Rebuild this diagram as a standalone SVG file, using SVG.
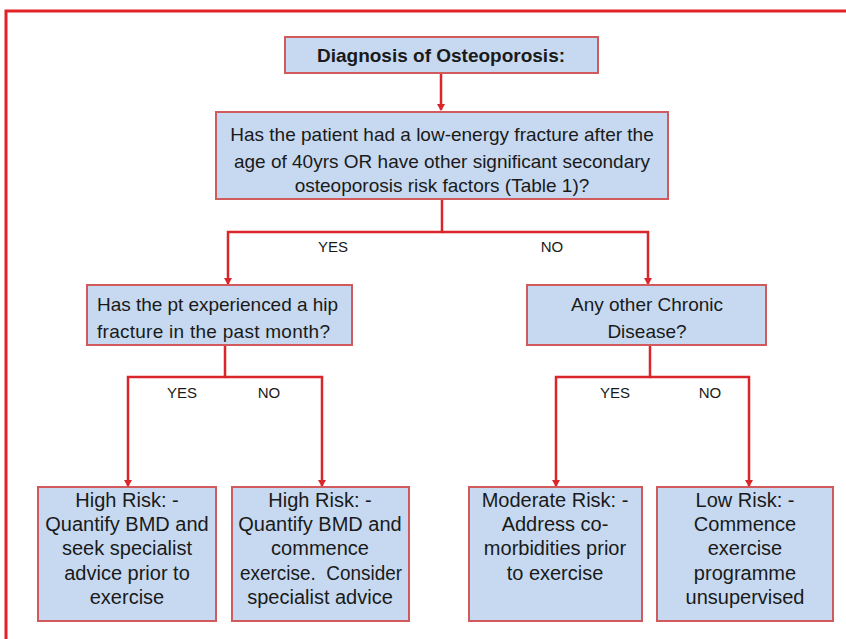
<svg xmlns="http://www.w3.org/2000/svg" width="846" height="639" viewBox="0 0 846 639">
<style>
.box{fill:#c6d9f0;stroke:#d05a5c;stroke-width:2}
.t{font-family:"Liberation Sans",Arial,sans-serif;fill:#1a1a1a}
.q{font-size:19px}
.b{font-size:20px;white-space:pre}
.lbl{font-size:15px}
.c{fill:none;stroke:#d9262b;stroke-width:2.5}
</style>
<defs>
<marker id="ah" markerWidth="8" markerHeight="8" refX="6" refY="4" orient="auto" markerUnits="userSpaceOnUse">
<path d="M0,0 L7,4 L0,8 Z" fill="#d9262b"/>
</marker>
</defs>
<rect width="846" height="639" fill="#ffffff"/>
<path d="M6,639 V11 H846" fill="none" stroke="#e32228" stroke-width="3"/>

<g id="connectors">
<path class="c" d="M441,73 V110" marker-end="url(#ah)"/>
<path class="c" d="M442,199 V232 H228 V284" marker-end="url(#ah)"/>
<path class="c" d="M442,232 H648 V284" marker-end="url(#ah)"/>
<path class="c" d="M225,345 V377 H128 V486" marker-end="url(#ah)"/>
<path class="c" d="M225,377 H322 V486" marker-end="url(#ah)"/>
<path class="c" d="M650,345 V377 H556 V486" marker-end="url(#ah)"/>
<path class="c" d="M650,377 H749 V486" marker-end="url(#ah)"/>
<text class="t lbl" x="333" y="252" text-anchor="middle">YES</text>
<text class="t lbl" x="552" y="252" text-anchor="middle">NO</text>
<text class="t lbl" x="182" y="398" text-anchor="middle">YES</text>
<text class="t lbl" x="269" y="398" text-anchor="middle">NO</text>
<text class="t lbl" x="615" y="398" text-anchor="middle">YES</text>
<text class="t lbl" x="710" y="398" text-anchor="middle">NO</text>
</g>

<g id="title">
<rect class="box" x="285" y="37" width="313" height="36"/>
<text class="t" x="441" y="62" text-anchor="middle" font-size="19" font-weight="bold">Diagnosis of Osteoporosis:</text>
</g>

<g id="q1">
<rect class="box" x="216" y="112" width="452" height="87"/>
<text class="t q" text-anchor="middle"><tspan x="442" y="141">Has the patient had a low-energy fracture after the</tspan><tspan x="442" y="168">age of 40yrs OR have other significant secondary</tspan><tspan x="442" y="192">osteoporosis risk factors (Table 1)?</tspan></text>
</g>

<g id="q-hip">
<rect class="box" x="87" y="285" width="265" height="60"/>
<text class="t q" x="97" y="311" textLength="241" lengthAdjust="spacing">Has the pt experienced a hip</text>
<text class="t q" x="97" y="338" textLength="233" lengthAdjust="spacing">fracture in the past month?</text>
</g>

<g id="q-chronic">
<rect class="box" x="527" y="285" width="239" height="60"/>
<text class="t q" text-anchor="middle"><tspan x="647" y="311">Any other Chronic</tspan><tspan x="647" y="338">Disease?</tspan></text>
</g>

<g id="high-risk-1">
<rect class="box" x="38" y="487" width="178" height="134"/>
<text class="t b" text-anchor="middle"><tspan x="127" y="507">High Risk: -</tspan><tspan x="127" y="531">Quantify BMD and</tspan><tspan x="127" y="555">seek specialist</tspan><tspan x="127" y="580">advice prior to</tspan><tspan x="127" y="604">exercise</tspan></text>
</g>

<g id="high-risk-2">
<rect class="box" x="232" y="487" width="177" height="134"/>
<text class="t b" text-anchor="middle"><tspan x="320" y="507">High Risk: -</tspan><tspan x="320" y="531">Quantify BMD and</tspan><tspan x="320" y="555">commence</tspan><tspan x="320" y="604">specialist advice</tspan></text>
<text class="t b" x="240" y="580" textLength="162" lengthAdjust="spacingAndGlyphs">exercise.  Consider</text>
</g>

<g id="moderate-risk">
<rect class="box" x="469" y="487" width="173" height="134"/>
<text class="t b" text-anchor="middle"><tspan x="555" y="507">Moderate Risk: -</tspan><tspan x="555" y="531">Address co-</tspan><tspan x="555" y="555">morbidities prior</tspan><tspan x="555" y="580">to exercise</tspan></text>
</g>

<g id="low-risk">
<rect class="box" x="657" y="487" width="176" height="134"/>
<text class="t b" text-anchor="middle"><tspan x="745" y="507">Low Risk: -</tspan><tspan x="745" y="531">Commence</tspan><tspan x="745" y="555">exercise</tspan><tspan x="745" y="580">programme</tspan><tspan x="745" y="604">unsupervised</tspan></text>
</g>
</svg>
